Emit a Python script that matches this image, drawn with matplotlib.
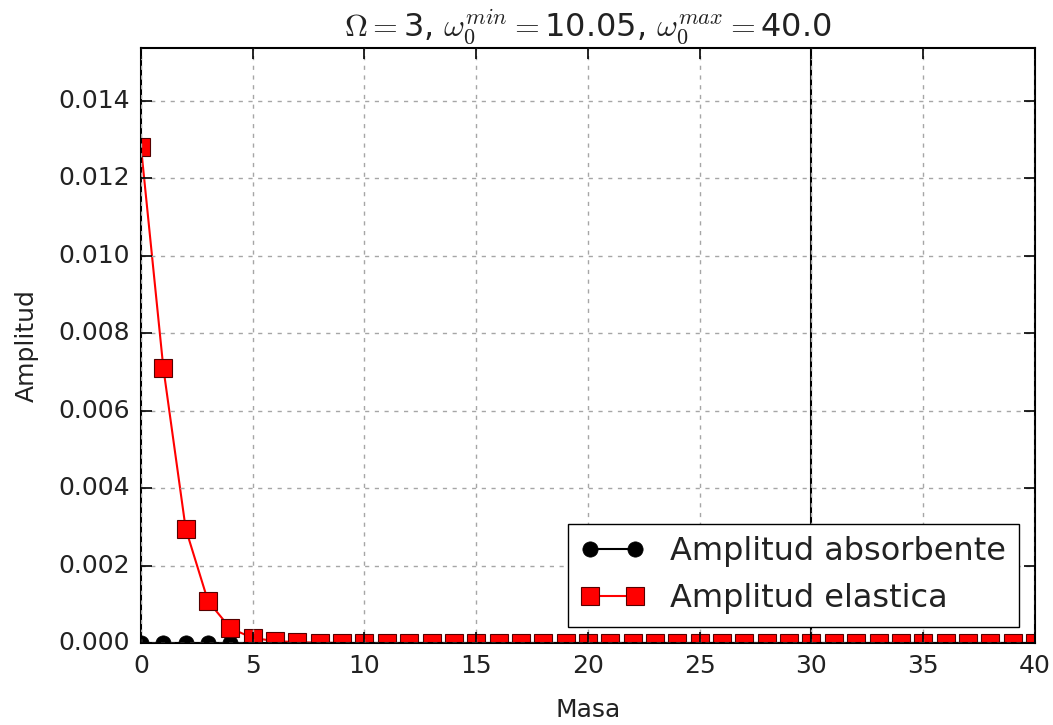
import matplotlib
matplotlib.use('Agg')
import matplotlib.pyplot as plt
import numpy as np

plt.style.use('classic')

# amplitudes per mass index
masa = list(range(41))
amp_absorbente = [0.0, 0.0, 0.0, 0.0, 0.0, 0.0, 0.0, 0.0, 0.0, 0.0,
                  0.0, 0.0, 0.0, 0.0, 0.0, 0.0, 0.0, 0.0, 0.0, 0.0,
                  0.0, 0.0, 0.0, 0.0, 0.0, 0.0, 0.0, 0.0, 0.0, 0.0,
                  0.0, 0.0, 0.0, 0.0, 0.0, 0.0, 0.0, 0.0, 0.0, 0.0,
                  0.0]
amp_elastica = [0.0128, 0.0071, 0.00295, 0.00108, 0.00038, 0.00013,
                0.00005, 0.00002, 0.00001, 0.0, 0.0, 0.0, 0.0, 0.0,
                0.0, 0.0, 0.0, 0.0, 0.0, 0.0, 0.0, 0.0, 0.0, 0.0,
                0.0, 0.0, 0.0, 0.0, 0.0, 0.0, 0.0, 0.0, 0.0, 0.0,
                0.0, 0.0, 0.0, 0.0, 0.0, 0.0, 0.0]

Omega = 3
w_min = 10.05
w_max = 40.0
corte = 30

fig = plt.figure(figsize=(10.53, 7.25), dpi=100, facecolor='white')
ax = fig.add_axes([0.1339, 0.1131, 0.8490, 0.8207])

ax.plot(masa, amp_absorbente, 'o-', color='k', markersize=11, lw=1.5,
        label='Amplitud absorbente')
ax.plot(masa, amp_elastica, 's-', color='r', markersize=12.5, lw=1.5,
        mec='#550000', mew=0.8, label='Amplitud elastica')
ax.axvline(corte, color='k', lw=1.5)

ax.set_xlim(0, 40)
ax.set_ylim(0, max(amp_elastica) * 1.2)
ax.grid(True, color='0.65', linestyle='--', dashes=(3, 4), linewidth=1)

ax.set_title(r'$\Omega=$' + str(Omega) + r', $\omega_0^{min}=$' + str(w_min)
             + r', $\omega_0^{max}=$' + str(w_max), fontsize=23, pad=8,
             color='#222222')
ax.set_xlabel('Masa', fontsize=18, labelpad=14, color='#222222')
ax.set_ylabel('Amplitud', fontsize=18, labelpad=14, color='#222222')
ax.tick_params(labelsize=18, width=1.2, length=8, pad=8, labelcolor='#222222')
for s in ax.spines.values():
    s.set_linewidth(1.5)

leg = ax.legend(loc='lower right', fontsize=23, numpoints=2)
for t in leg.get_texts():
    t.set_color('#222222')

plt.savefig('out.png', dpi=100, facecolor='white')
